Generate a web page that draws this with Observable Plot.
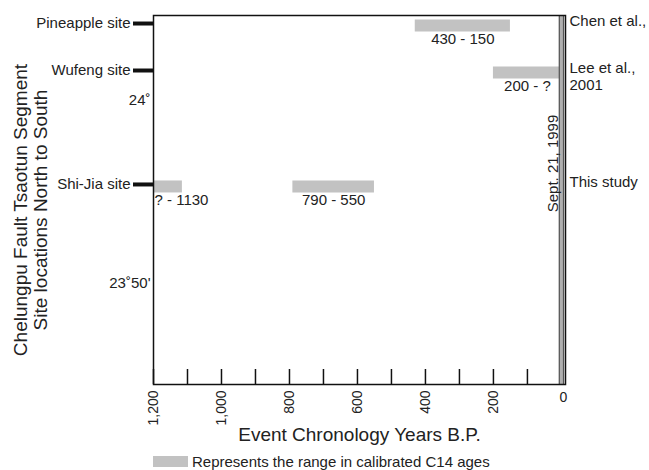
<!DOCTYPE html>
<html>
<head>
<meta charset="utf-8">
<script src="https://cdn.jsdelivr.net/npm/d3@7"></script>
<script src="https://cdn.jsdelivr.net/npm/@observablehq/plot@0.6"></script>
<style>
  html, body { margin: 0; padding: 0; background: #fff; overflow: hidden; }
  body { font-family: "Liberation Sans", Arial, sans-serif; color: #222; }
  #legend { display: flex; align-items: center; height: 26px; margin-left: 153px; font-size: 15px; }
  #legend .sw { width: 35px; height: 11px; background: #c2c2c2; margin-right: 4px; }
</style>
</head>
<body>
<div id="chart"></div>
<div id="legend"><span class="sw"></span><span>Represents the range in calibrated C14 ages</span></div>
<script>
// ---- data ----
const sites = ["Pineapple site", "Wufeng site", "Shi-Jia site"];
const siteLat = [24.0701, 24.0273, 23.9235];           // decimal degrees N
const sources = ["Chen et al.,", "Lee et al.,\n2001", "This study"];

const barSite = [0, 1, 2, 2];
const barStart = [430, 200, 1200, 790];                  // years B.P.
const barEnd = [150, 0, 1115, 550];
const barLabels = ["430 - 150", "200 - ?", "? - 1130", "790 - 550"];

const latTicks = [24, 23 + 50 / 60];
const latLabels = ["24˚", "23˚50'"];

const yearTicks = [1200, 1100, 1000, 900, 800, 700, 600, 500, 400, 300, 200, 100];
const yearLabels = [1200, 1000, 800, 600, 400, 200];
const zeroLabel = [0];

const eventYear = [0];
const eventLabel = ["Sept. 21, 1999"];
const eventLat = [23.9426];

const xDomain = [1200, -12];
const yDomain = [23.7413, 24.0774];

const xTitle = "Event Chronology Years B.P.";
const yTitle = "Chelungpu Fault Tsaotun Segment\nSite locations North to South";

// ---- derived tables ----
const bars = barSite.map((s, i) => ({
  lat: siteLat[s], start: barStart[i], end: barEnd[i], label: barLabels[i]
}));
const siteRows = sites.map((s, i) => ({site: s, lat: siteLat[i], source: sources[i]}));

const textColor = "#222";

const chart = Plot.plot({
  width: 649,
  height: 448,
  marginLeft: 153,
  marginRight: 84,
  marginTop: 15,
  marginBottom: 64,
  style: {fontFamily: "\"Liberation Sans\", Arial, sans-serif", fontSize: "15px", color: textColor, background: "#fff"},
  x: {domain: xDomain},
  y: {domain: yDomain},
  marks: [
    // range bars
    Plot.ruleY(bars, {y: "lat", x1: "start", x2: "end", stroke: "#c2c2c2", strokeWidth: 12, dy: 2}),
    // event line (Sept. 21, 1999)
    Plot.ruleX(eventYear, {x: d => d, stroke: "#555", strokeWidth: 5.5}),
    Plot.ruleX(eventYear, {x: d => d, stroke: "#b0b0b0", strokeWidth: 3}),
    Plot.text(eventYear, {x: d => d, y: eventLat, text: eventLabel, rotate: -90, dx: -8, fontSize: 15, fill: textColor}),
    // inward x ticks
    Plot.tickX(yearTicks, {x: d => d, insetTop: 354, stroke: "#111", strokeWidth: 1.5}),
    Plot.frame({stroke: "#111", strokeWidth: 1.5}),
    // x tick labels (rotated) and unrotated 0
    Plot.axisX({ticks: yearLabels, tickSize: 0, tickPadding: 6, tickRotate: -90, tickFormat: d3.format(","), fontSize: 14, label: null}),
    Plot.axisX({ticks: zeroLabel, tickSize: 0, tickPadding: 8, fontSize: 14, dx: 2, label: null}),
    // site ticks + names
    Plot.axisY({ticks: siteLat, tickSize: 20, tickPadding: 3, strokeWidth: 4, stroke: "#111",
      tickFormat: d => sites[siteLat.indexOf(d)], fontSize: 15, label: null}),
    // latitude labels
    Plot.axisY({ticks: latTicks, tickSize: 0, tickPadding: 3,
      tickFormat: d => latLabels[latTicks.indexOf(d)], fontSize: 15, label: null}),
    // bar labels
    Plot.text(bars.filter(d => d.start !== 1200), {x: d => (d.start + d.end) / 2, y: "lat", text: "label", dy: 16, fontSize: 15, fill: textColor}),
    Plot.text(bars.filter(d => d.start === 1200), {x: "start", y: "lat", text: "label", dy: 16, dx: 1, textAnchor: "start", fontSize: 15, fill: textColor}),
    // source labels on the right
    Plot.text(siteRows, {frameAnchor: "right", y: "lat", text: "source", textAnchor: "start", lineAnchor: "top", dx: 4, dy: -9, lineHeight: 1.1, fontSize: 15, fill: textColor}),
    // axis titles
    Plot.text([xTitle], {frameAnchor: "bottom", textAnchor: "middle", lineAnchor: "middle", dy: 50, fontSize: 19, fill: textColor}),
    Plot.text([yTitle], {frameAnchor: "left", textAnchor: "middle", lineAnchor: "middle", rotate: -90, dx: -123, dy: 10, lineHeight: 1.05, fontSize: 19, fill: textColor})
  ]
});
document.getElementById("chart").appendChild(chart);
</script>
</body>
</html>
